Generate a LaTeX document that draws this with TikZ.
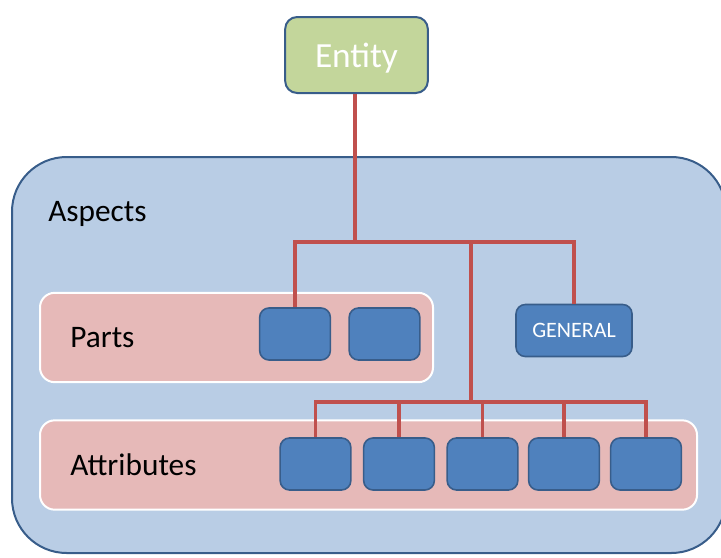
\documentclass[tikz,border=0pt]{standalone}
\usepackage{fontspec}
\setmainfont{Carlito}
\definecolor{entitygreen}{HTML}{C3D69B}
\definecolor{aspectblue}{HTML}{B9CDE5}
\definecolor{grouppink}{HTML}{E6B9B8}
\definecolor{itemblue}{HTML}{4F81BD}
\definecolor{edgeblue}{HTML}{385D8A}
\definecolor{linkred}{HTML}{C0504D}
\begin{document}
\begin{tikzpicture}[
  x=0.75pt, y=-0.75pt,
  entitybox/.style={rectangle, rounded corners=9pt, draw=edgeblue, line width=1.5pt, fill=entitygreen, text=white, minimum width=107pt, minimum height=57pt, text depth=0pt, font=\fontsize{26.5}{30}\selectfont},
  frame/.style={rectangle, rounded corners=41pt, draw=edgeblue, line width=1.5pt, fill=aspectblue, minimum width=535.5pt, minimum height=297pt},
  groupbox/.style={rectangle, rounded corners=11pt, draw=white, line width=1.5pt, fill=grouppink, minimum height=67pt},
  item/.style={rectangle, rounded corners=7pt, draw=edgeblue, line width=1.2pt, fill=itemblue, text=white, minimum width=53pt, minimum height=39pt, font=\fontsize{16.5}{20}\selectfont},
  label/.style={anchor=west, inner sep=0pt, font=\fontsize{23.5}{27}\selectfont},
  link/.style={draw=linkred, line width=2.3pt}
]
\useasboundingbox (0,0) rectangle (721,557);

% Aspects frame
\node[frame] (aspects) at (369,355) {};
\node[label] (aspectslabel) at (48,214) {Aspects};

% Groups
\node[groupbox, minimum width=294.75pt] (parts) at (236.5,337.5) {};
\node[label] (partslabel) at (70,338) {Parts};

\node[groupbox, minimum width=492.75pt] (attributes) at (368.5,465) {};
\node[label] (attributeslabel) at (70,465) {Attributes};

% Entity
\node[entitybox] (entity) at (356.5,55) {Entity};

% Items
\node[item] (part1) at (295,334) {};
\node[item] (part2) at (384.5,334) {};
\node[item, minimum width=87pt] (general) at (574,330.5) {GENERAL};

\foreach \x [count=\i] in {315.5,399,482.5,564,646}
  \node[item] (attr\i) at (\x,464) {};

% Links
\coordinate (hub) at (355,242);
\coordinate (attrhub) at (471,402);
\draw[link] (entity.south -| hub) -- (hub);
\draw[link] (part1.north) |- (hub) -| (general.north);
\draw[link] (hub -| attrhub) -- (attrhub);
\draw[link] (attr1.north) |- (attrhub) -| (attr5.north);
\foreach \i in {2,3,4}
  \draw[link] (attr\i.north) -- (attr\i.north |- attrhub);

\end{tikzpicture}
\end{document}
